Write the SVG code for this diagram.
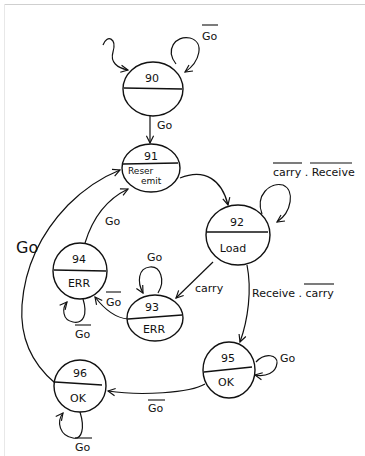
<svg xmlns="http://www.w3.org/2000/svg" width="365" height="456" viewBox="0 0 365 456">
<style>
.n{fill:none;stroke:#111;stroke-width:1.4}
.e{fill:none;stroke:#111;stroke-width:1.2}
.t{font-family:"DejaVu Sans","Liberation Sans",sans-serif;font-size:11px;fill:#111}
.s{font-size:9px}
.b{font-size:16px}
.m{text-anchor:middle}
.o{stroke:#111;stroke-width:1.1}
</style>
<defs>
<marker id="a" viewBox="0 0 10 10" refX="9" refY="5" markerWidth="9" markerHeight="9" markerUnits="userSpaceOnUse" orient="auto">
<path d="M1,1 L9,5 L1,9" fill="none" stroke="#111" stroke-width="1.3"/>
</marker>
</defs>
<rect width="365" height="456" fill="#fff"/>
<line x1="4" y1="4.5" x2="365" y2="4.5" stroke="#cfcfcf" stroke-width="1"/>
<line x1="4.5" y1="4" x2="4.5" y2="456" stroke="#e8e8e8" stroke-width="1"/>

<g id="n90"><ellipse class="n" cx="153" cy="89" rx="30" ry="27"/><path class="n" d="M124,88 L182,89"/><text class="t m" x="152" y="82">90</text></g>
<g id="n91"><ellipse class="n" cx="151" cy="168" rx="29" ry="24"/><path class="n" d="M123,164 L178,163"/><text class="t m" x="151" y="160">91</text><text class="t s" x="128" y="174">Reser</text><text class="t s" x="141" y="184">emit</text></g>
<g id="n92"><ellipse class="n" cx="238" cy="235" rx="32" ry="30"/><path class="n" d="M207,232 L268,232"/><text class="t m" x="237" y="226">92</text><text class="t m" x="233" y="252">Load</text></g>
<g id="n93"><ellipse class="n" cx="155" cy="318" rx="28" ry="23"/><path class="n" d="M128,319 L182,315"/><text class="t m" x="152" y="311">93</text><text class="t m" x="154" y="333">ERR</text></g>
<g id="n94"><ellipse class="n" cx="80" cy="271" rx="27" ry="28"/><path class="n" d="M54,270 L106,271"/><text class="t m" x="79" y="263">94</text><text class="t m" x="79" y="287">ERR</text></g>
<g id="n95"><ellipse class="n" cx="229" cy="370" rx="26" ry="28"/><path class="n" d="M204,372 L252,367"/><text class="t m" x="228" y="362">95</text><text class="t m" x="226" y="386">OK</text></g>
<g id="n96"><ellipse class="n" cx="80" cy="386" rx="26" ry="26"/><path class="n" d="M55,382 L102,385"/><text class="t m" x="80" y="377">96</text><text class="t m" x="78" y="402">OK</text></g>

<g id="edges">
<path class="e" marker-end="url(#a)" d="M103,45 C107,34 117,38 113,52 C110,62 117,68 128,70"/>
<path class="e" marker-end="url(#a)" d="M176,64 C165,50 175,35 190,38 C205,42 200,62 185,72"/>
<path class="e" marker-end="url(#a)" d="M150,116 L150,143"/>
<path class="e" marker-end="url(#a)" d="M180,178 C205,168 222,180 228,205"/>
<path class="e" marker-end="url(#a)" d="M262,214 C255,195 270,182 283,185 C295,190 292,212 277,222"/>
<path class="e" marker-end="url(#a)" d="M213,262 L176,298"/>
<path class="e" marker-end="url(#a)" d="M247,265 C252,290 248,320 240,342"/>
<path class="e" marker-end="url(#a)" d="M158,293 C166,280 160,266 150,267 C138,268 137,282 143,293"/>
<path class="e" marker-end="url(#a)" d="M128,319 C115,318 105,310 95,297"/>
<path class="e" marker-end="url(#a)" d="M85,243 C92,220 105,200 128,189"/>
<path class="e" marker-end="url(#a)" d="M83,299 C88,315 83,324 73,322 C62,320 62,308 67,302"/>
<path class="e" marker-end="url(#a)" d="M256,362 C265,352 278,355 277,363 C276,373 266,377 255,375"/>
<path class="e" marker-end="url(#a)" d="M205,384 C190,393 140,396 108,391"/>
<path class="e" marker-end="url(#a)" d="M55,383 C30,362 20,335 22,305 C25,265 42,232 68,205 C84,189 100,178 120,170"/>
<path class="e" marker-end="url(#a)" d="M80,412 C85,428 82,440 73,438 C60,436 56,422 63,413"/>
</g>

<g id="labels">
<text class="t" x="157" y="129">Go</text>
<text class="t" x="202" y="40">Go</text><line class="o" x1="202" y1="25" x2="218" y2="25"/>
<text class="t" x="273" y="176">carry . Receive</text><line class="o" x1="273" y1="163" x2="302" y2="163"/><line class="o" x1="310" y1="163" x2="352" y2="163"/>
<text class="t" x="195" y="292">carry</text>
<text class="t" x="252" y="297">Receive . carry</text><line class="o" x1="304" y1="284" x2="334" y2="284"/>
<text class="t" x="147" y="261">Go</text>
<text class="t" x="106" y="306">Go</text><line class="o" x1="106" y1="292" x2="121" y2="292"/>
<text class="t" x="105" y="225">Go</text>
<text class="t b" x="16" y="253">Go</text>
<text class="t" x="75" y="338">Go</text><line class="o" x1="75" y1="325" x2="91" y2="325"/>
<text class="t" x="280" y="362">Go</text>
<text class="t" x="148" y="412">Go</text><line class="o" x1="148" y1="400" x2="165" y2="400"/>
<text class="t" x="75" y="451">Go</text><line class="o" x1="75" y1="438" x2="92" y2="438"/>
</g>
</svg>
